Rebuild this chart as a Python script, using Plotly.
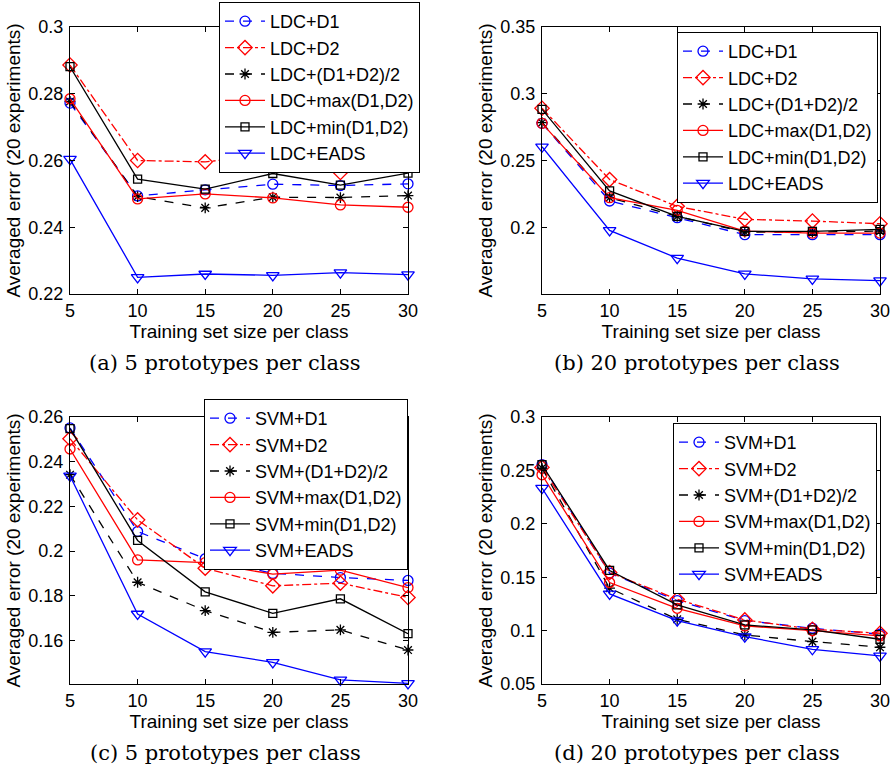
import plotly.graph_objects as go

sizes = [5, 10, 15, 20, 25, 30]
methods = ["D1", "D2", "(D1+D2)/2", "max(D1,D2)", "min(D1,D2)", "EADS"]

# (a) LDC, 5 prototypes per class
ldc5 = {
    "D1":         [0.2772, 0.2494, 0.2512, 0.2529, 0.2525, 0.2530],
    "D2":         [0.2886, 0.2600, 0.2596, 0.2617, 0.2564, 0.2588],
    "(D1+D2)/2":  [0.2777, 0.2492, 0.2458, 0.2490, 0.2489, 0.2495],
    "max(D1,D2)": [0.2785, 0.2485, 0.2500, 0.2488, 0.2467, 0.2460],
    "min(D1,D2)": [0.2881, 0.2544, 0.2514, 0.2561, 0.2526, 0.2562],
    "EADS":       [0.2604, 0.2250, 0.2260, 0.2256, 0.2264, 0.2258],
}
# (b) LDC, 20 prototypes per class
ldc20 = {
    "D1":         [0.2780, 0.2200, 0.2075, 0.1948, 0.1948, 0.1948],
    "D2":         [0.2893, 0.2360, 0.2160, 0.2063, 0.2050, 0.2030],
    "(D1+D2)/2":  [0.2785, 0.2225, 0.2085, 0.1968, 0.1968, 0.1975],
    "max(D1,D2)": [0.2780, 0.2225, 0.2130, 0.1975, 0.1960, 0.1960],
    "min(D1,D2)": [0.2885, 0.2275, 0.2085, 0.1973, 0.1973, 0.1988],
    "EADS":       [0.2605, 0.1980, 0.1773, 0.1655, 0.1618, 0.1605],
}
# (c) SVM, 5 prototypes per class
svm5 = {
    "D1":         [0.2551, 0.2088, 0.1966, 0.1901, 0.1882, 0.1869],
    "D2":         [0.2503, 0.2140, 0.1924, 0.1845, 0.1857, 0.1793],
    "(D1+D2)/2":  [0.2342, 0.1861, 0.1734, 0.1637, 0.1648, 0.1558],
    "max(D1,D2)": [0.2457, 0.1961, 0.1949, 0.1897, 0.1915, 0.1837],
    "min(D1,D2)": [0.2548, 0.2048, 0.1818, 0.1722, 0.1787, 0.1631],
    "EADS":       [0.2337, 0.1719, 0.1551, 0.1503, 0.1424, 0.1409],
}
# (d) SVM, 20 prototypes per class
svm20 = {
    "D1":         [0.2553, 0.1538, 0.1281, 0.1094, 0.1022, 0.0966],
    "D2":         [0.2528, 0.1544, 0.1294, 0.1100, 0.1013, 0.0975],
    "(D1+D2)/2":  [0.2522, 0.1397, 0.1106, 0.0959, 0.0897, 0.0844],
    "max(D1,D2)": [0.2459, 0.1450, 0.1209, 0.1044, 0.1000, 0.0950],
    "min(D1,D2)": [0.2553, 0.1563, 0.1241, 0.1053, 0.1006, 0.0919],
    "EADS":       [0.2334, 0.1344, 0.1094, 0.0944, 0.0825, 0.0763],
}

captions = ["(a) 5 prototypes per class", "(b) 20 prototypes per class",
            "(c) 5 prototypes per class", "(d) 20 prototypes per class"]
ytick_sets = [
    [0.22, 0.24, 0.26, 0.28, 0.30],
    [0.20, 0.25, 0.30, 0.35],
    [0.16, 0.18, 0.20, 0.22, 0.24, 0.26],
    [0.05, 0.10, 0.15, 0.20, 0.25, 0.30],
]
ytick_texts = [
    ["0.22", "0.24", "0.26", "0.28", "0.3"],
    ["0.2", "0.25", "0.3", "0.35"],
    ["0.16", "0.18", "0.2", "0.22", "0.24", "0.26"],
    ["0.05", "0.1", "0.15", "0.2", "0.25", "0.3"],
]
yranges = [[0.22, 0.30], [0.1505, 0.35], [0.1406, 0.26], [0.05, 0.30]]

panels = [("LDC", ldc5), ("LDC", ldc20), ("SVM", svm5), ("SVM", svm20)]

styles = {
    "D1":         dict(color="#0000ff", dash="dash",    symbol="circle-open",        size=10),
    "D2":         dict(color="#ff0000", dash="dashdot", symbol="diamond-open",       size=11),
    "(D1+D2)/2":  dict(color="#000000", dash="dash",    symbol="asterisk-open",      size=9),
    "max(D1,D2)": dict(color="#ff0000", dash="solid",   symbol="circle-open",        size=10),
    "min(D1,D2)": dict(color="#000000", dash="solid",   symbol="square-open",        size=8),
    "EADS":       dict(color="#0000ff", dash="solid",   symbol="triangle-down-open", size=11),
}

W, H = 896, 771
# pixel boxes of the four axes: (left, right, top, bottom)
boxes = [(70, 408, 27, 294), (542, 880, 27, 294), (70, 408, 417, 684), (542, 880, 417, 684)]
legend_pos = [(219, 2), (677, 32), (204, 399), (673, 423)]
caption_pos = [(225, 363), (697, 363), (225, 753), (697, 753)]

FONT = "Liberation Sans, Arial, Helvetica, sans-serif"

fig = go.Figure()
layout = dict(
    width=W, height=H, margin=dict(l=0, r=0, t=0, b=0, pad=0, autoexpand=False),
    paper_bgcolor="white", plot_bgcolor="white",
    font=dict(family=FONT, size=18, color="black"),
    annotations=[],
)

for i, (clf, data) in enumerate(panels):
    n = "" if i == 0 else str(i + 1)
    xa, ya = "x" + n, "y" + n
    lg = "legend" + n
    for m in methods:
        s = styles[m]
        fig.add_trace(go.Scatter(
            x=sizes, y=data[m], name=f"{clf}+{m}", mode="lines+markers",
            xaxis=xa, yaxis=ya, legend=lg, cliponaxis=False,
            line=dict(color=s["color"], dash=s["dash"], width=1.3),
            marker=dict(symbol=s["symbol"], size=s["size"], color=s["color"],
                        line=dict(color=s["color"], width=1.3)),
        ))
    l, r, t, b = boxes[i]
    axcommon = dict(showline=True, linecolor="black", linewidth=1.2, mirror="ticks",
                    ticks="inside", ticklen=5, tickcolor="black", tickwidth=1,
                    showgrid=False, zeroline=False, automargin=False,
                    tickfont=dict(family=FONT, size=18, color="black"))
    layout["xaxis" + n] = dict(
        axcommon, domain=[l / W, r / W], anchor=ya, range=[5, 30],
        tickvals=sizes, ticktext=[str(v) for v in sizes], ticklabelstandoff=0,
        title=dict(text="Training set size per class", font=dict(size=19), standoff=0),
    )
    layout["yaxis" + n] = dict(
        axcommon, domain=[1 - b / H, 1 - t / H], anchor=xa, range=yranges[i],
        tickvals=ytick_sets[i], ticktext=ytick_texts[i], ticklabelstandoff=2,
        title=dict(text="Averaged error (20 experiments)", font=dict(size=19), standoff=2),
    )
    lx, ly = legend_pos[i]
    layout[lg] = dict(
        x=lx / W, y=1 - ly / H, xanchor="left", yanchor="top", xref="paper", yref="paper",
        bgcolor="white", bordercolor="black", borderwidth=1,
        font=dict(family=FONT, size=18, color="black"),
        itemwidth=40, tracegroupgap=0,
    )
    cx, cy = caption_pos[i]
    layout["annotations"].append(dict(
        text=captions[i], x=cx / W, y=1 - cy / H, xref="paper", yref="paper",
        xanchor="center", yanchor="middle", showarrow=False,
        font=dict(family="DejaVu Serif, serif", size=21, color="black"),
    ))

fig.update_layout(**layout)
fig.write_html("out.html")
